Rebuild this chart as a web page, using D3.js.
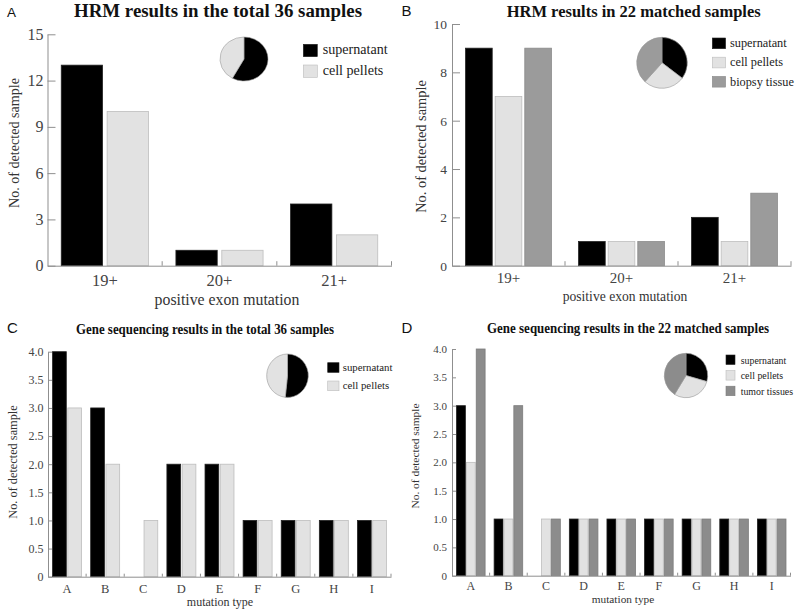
<!DOCTYPE html>
<html><head><meta charset="utf-8">
<script src="https://cdn.jsdelivr.net/npm/d3@7"></script>
<style>body{margin:0;background:#fff}svg{display:block}</style>
</head><body><svg id="c" width="800" height="614"></svg>
<script>
// ---------- data ----------
const hrmCategories = ["19+", "20+", "21+"];
const hrmTotalSupernatant = [13, 1, 4];
const hrmTotalCellPellets = [10, 1, 2];
const hrmTotalTicks = [0, 3, 6, 9, 12, 15];

const hrmMatchedSupernatant = [9, 1, 2];
const hrmMatchedCellPellets = [7, 1, 1];
const hrmMatchedBiopsy = [9, 1, 3];
const hrmMatchedTicks = [0, 2, 4, 6, 8, 10];

const seqCategories = ["A", "B", "C", "D", "E", "F", "G", "H", "I"];
const seqTotalSupernatant = [4, 3, 0, 2, 2, 1, 1, 1, 1];
const seqTotalCellPellets = [3, 2, 1, 2, 2, 1, 1, 1, 1];
const seqMatchedSupernatant = [3, 1, 0, 1, 1, 1, 1, 1, 1];
const seqMatchedCellPellets = [2, 1, 1, 1, 1, 1, 1, 1, 1];
const seqMatchedTumor = [4, 3, 1, 1, 1, 1, 1, 1, 1];
const seqTicks = [0, 0.5, 1.0, 1.5, 2.0, 2.5, 3.0, 3.5, 4.0];
const seqTickLabels = ["0", "0.5", "1.0", "1.5", "2.0", "2.5", "3.0", "3.5", "4.0"];

// ---------- styles ----------
const SERIF = "'Liberation Serif','Times New Roman',serif";
const SANS = "'Liberation Sans',Arial,sans-serif";
const BLACK = {fill: "#000", stroke: "#222"};
const LIGHT = {fill: "#e2e2e2", stroke: "#bdbdbd"};
const GREY = {fill: "#9b9b9b", stroke: "#8a8a8a"};
const DGREY = {fill: "#8c8c8c", stroke: "#7c7c7c"};
const AXIS = "#8f8f8f";
const TICKTXT = "#444";

const svg = d3.select("#c");

function txt(g, x, y, str, o) {
  const t = g.append("text").attr("x", x).attr("y", y).text(str)
    .attr("font-family", o.family || SERIF).attr("font-size", o.size)
    .attr("fill", o.fill || "#111").attr("text-anchor", o.anchor || "middle");
  if (o.weight) t.attr("font-weight", o.weight);
  if (o.len) t.attr("textLength", o.len).attr("lengthAdjust", "spacingAndGlyphs");
  if (o.rotate) t.attr("transform", `rotate(-90 ${x} ${y})`);
  if (o.central) t.attr("dominant-baseline", "central");
  return t;
}

function panel(p) {
  const g = svg.append("g");
  const x = d3.scaleBand().domain(p.categories).range(p.xRange).padding(0);
  const y = d3.scaleLinear().domain(p.yDomain).range(p.yRange);
  const groupW = x.bandwidth() * 0.76;
  const xs = d3.scaleBand().domain(p.series.map(s => s.name)).range([0, groupW]).paddingInner(0.1);

  // bars
  p.series.forEach(s => {
    g.append("g").selectAll("rect")
      .data(s.values.map((v, i) => ({v, c: p.categories[i]})).filter(d => d.v > 0))
      .join("rect")
      .attr("x", d => x(d.c) + (x.bandwidth() - groupW) / 2 + xs(s.name))
      .attr("y", d => y(d.v))
      .attr("width", xs.bandwidth())
      .attr("height", d => y(0) - y(d.v))
      .attr("fill", s.style.fill).attr("stroke", s.style.stroke).attr("stroke-width", 0.8);
  });

  // y axis (ticks pointing inward)
  const ya = g.append("g").attr("transform", `translate(${p.xRange[0]},0)`)
    .call(d3.axisLeft(y).tickValues(p.yTicks)
      .tickFormat((d, i) => p.yTickLabels ? p.yTickLabels[i] : d)
      .tickSizeInner(-p.yTickLen).tickSizeOuter(0).tickPadding(p.yLabelGap));
  ya.attr("font-family", SERIF);
  ya.select(".domain").attr("stroke", AXIS);
  ya.selectAll(".tick line").attr("stroke", AXIS);
  ya.selectAll(".tick text").attr("font-family", SERIF).attr("font-size", p.yTickFont).attr("fill", TICKTXT);

  // x axis: baseline + boundary ticks + category labels
  const xa = g.append("g").attr("transform", `translate(0,${y(0)})`)
    .call(d3.axisBottom(x).tickSize(0).tickSizeOuter(0));
  xa.attr("font-family", SERIF);
  xa.select(".domain").attr("stroke", AXIS);
  xa.selectAll(".tick text").attr("font-family", SERIF).attr("font-size", p.xTickFont)
    .attr("fill", TICKTXT).attr("dy", null).attr("y", p.xLabelOffset);
  xa.selectAll(".bound").data(p.categories).join("line").attr("class", "bound")
    .attr("x1", d => x(d) + x.bandwidth()).attr("x2", d => x(d) + x.bandwidth())
    .attr("y1", 0).attr("y2", -p.xTickLen).attr("stroke", AXIS);

  // axis titles
  txt(g, p.yTitle.x, p.yTitle.y, "No. of detected sample",
      {size: p.yTitle.size, rotate: true, central: true, fill: "#333"});
  txt(g, p.xTitle.x, p.xTitle.y, p.xTitle.text, {size: p.xTitle.size, fill: "#333"});

  // chart title and panel letter
  txt(g, p.title.x, p.title.y, p.title.text, {size: p.title.size, weight: "bold", len: p.title.len, fill: "#111"});
  txt(g, p.letter.x, p.letter.y, p.letter.text, {size: p.letter.size, family: SANS, anchor: "start", fill: "#111"});

  // pie of series totals
  const totals = p.series.map(s => ({name: s.name, style: s.style, total: d3.sum(s.values)}));
  const arcs = d3.pie().sort(null).value(d => d.total)(totals);
  const arc = d3.arc().innerRadius(0).outerRadius(p.pie.rx);
  g.append("g").attr("transform", `translate(${p.pie.cx},${p.pie.cy}) scale(1,${p.pie.ry / p.pie.rx})`)
    .selectAll("path").data(arcs).join("path")
    .attr("d", arc).attr("fill", d => d.data.style.fill)
    .attr("stroke", "#999").attr("stroke-width", 0.6);

  // legend
  const L = p.legend;
  p.series.forEach((s, i) => {
    const yy = L.y + i * L.step;
    g.append("rect").attr("x", L.x).attr("y", yy).attr("width", L.w).attr("height", L.h)
      .attr("fill", s.style.fill).attr("stroke", s.style.stroke).attr("stroke-width", 0.6);
    txt(g, L.tx, yy + L.h - L.base, s.name, {size: L.size, anchor: "start", fill: "#222"});
  });
}

// ---------- Panel A ----------
panel({
  categories: hrmCategories,
  series: [
    {name: "supernatant", values: hrmTotalSupernatant, style: BLACK},
    {name: "cell pellets", values: hrmTotalCellPellets, style: LIGHT}
  ],
  xRange: [47.5, 391.5], yDomain: [0, 15], yRange: [265.7, 34.3],
  yTicks: hrmTotalTicks, yTickLen: 8, yLabelGap: 4, yTickFont: 16,
  xTickFont: 16.5, xLabelOffset: 20.5, xTickLen: 4.5,
  yTitle: {x: 13.5, y: 143, size: 14.1},
  xTitle: {x: 227, y: 305, size: 15.8, text: "positive exon mutation"},
  title: {x: 218, y: 17, size: 18.6, len: 288, text: "HRM results in the total 36 samples"},
  letter: {x: 7, y: 16.5, size: 13.5, text: "A"},
  pie: {cx: 244, cy: 59, rx: 24, ry: 22},
  legend: {x: 303.3, y: 44.3, w: 14, h: 12.4, step: 20.7, tx: 322.7, base: 2.5, size: 14.1}
});

// ---------- Panel B ----------
panel({
  categories: hrmCategories,
  series: [
    {name: "supernatant", values: hrmMatchedSupernatant, style: BLACK},
    {name: "cell pellets", values: hrmMatchedCellPellets, style: LIGHT},
    {name: "biopsy tissue", values: hrmMatchedBiopsy, style: GREY}
  ],
  xRange: [452, 791], yDomain: [0, 10], yRange: [265.7, 24],
  yTicks: hrmMatchedTicks, yTickLen: 8, yLabelGap: 5, yTickFont: 13.5,
  xTickFont: 15, xLabelOffset: 17.5, xTickLen: 4.5,
  yTitle: {x: 421, y: 146.5, size: 14.4},
  xTitle: {x: 625, y: 300.5, size: 13.6, text: "positive exon mutation"},
  title: {x: 633.7, y: 16.5, size: 16.5, len: 254, text: "HRM results in 22 matched samples"},
  letter: {x: 401.5, y: 16, size: 15, text: "B"},
  pie: {cx: 662, cy: 62.8, rx: 25.3, ry: 25.5},
  legend: {x: 712.3, y: 38, w: 13.3, h: 10.7, step: 19.2, tx: 730, base: 1.5, size: 12.3}
});

// ---------- Panel C ----------
panel({
  categories: seqCategories,
  series: [
    {name: "supernatant", values: seqTotalSupernatant, style: BLACK},
    {name: "cell pellets", values: seqTotalCellPellets, style: LIGHT}
  ],
  xRange: [48, 391], yDomain: [0, 4], yRange: [576.7, 351.7],
  yTicks: seqTicks, yTickLabels: seqTickLabels, yTickLen: 4, yLabelGap: 4.5, yTickFont: 12,
  xTickFont: 12.5, xLabelOffset: 16.3, xTickLen: 3,
  yTitle: {x: 12.5, y: 462, size: 12.3},
  xTitle: {x: 220, y: 606, size: 12, text: "mutation type"},
  title: {x: 205, y: 334.3, size: 13.6, len: 258, text: "Gene sequencing results in the total 36 samples"},
  letter: {x: 7, y: 333, size: 15, text: "C"},
  pie: {cx: 287.5, cy: 375.7, rx: 20.8, ry: 21.7},
  legend: {x: 327.7, y: 362.7, w: 11.3, h: 9.7, step: 18.3, tx: 342.7, base: 1.5, size: 10.8}
});

// ---------- Panel D ----------
panel({
  categories: seqCategories,
  series: [
    {name: "supernatant", values: seqMatchedSupernatant, style: BLACK},
    {name: "cell pellets", values: seqMatchedCellPellets, style: LIGHT},
    {name: "tumor tissues", values: seqMatchedTumor, style: DGREY}
  ],
  xRange: [452, 790.5], yDomain: [0, 4], yRange: [575.7, 349],
  yTicks: seqTicks, yTickLabels: seqTickLabels, yTickLen: 4, yLabelGap: 5, yTickFont: 11,
  xTickFont: 12, xLabelOffset: 14.3, xTickLen: 3,
  yTitle: {x: 415, y: 456, size: 11.4},
  xTitle: {x: 623, y: 603, size: 11.3, text: "mutation type"},
  title: {x: 628, y: 333, size: 13.6, len: 282, text: "Gene sequencing results in the 22 matched samples"},
  letter: {x: 401.5, y: 333.3, size: 15, text: "D"},
  pie: {cx: 686, cy: 375.5, rx: 21.7, ry: 22.2},
  legend: {x: 726, y: 355, w: 9, h: 9.5, step: 15.6, tx: 740.7, base: 1, size: 9.9}
});
</script></body></html>
